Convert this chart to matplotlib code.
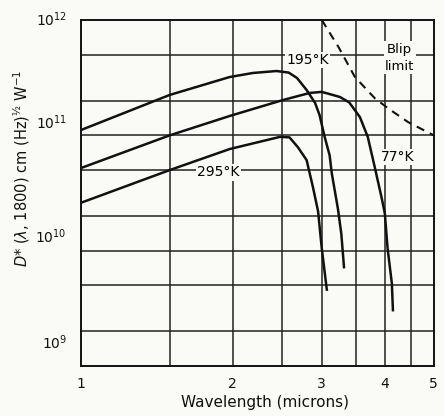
import matplotlib.pyplot as plt
import matplotlib.transforms as mtransforms

# curves (wavelength in microns, D* in cm Hz^1/2 W^-1)
x195 = [1.0, 1.5, 1.97, 2.19, 2.44, 2.58, 2.68, 2.80, 2.91, 2.97, 3.04, 3.11,
        3.14, 3.23, 3.28, 3.32]
y195 = [1.11e11, 2.24e11, 3.2e11, 3.47e11, 3.61e11, 3.5e11, 3.14e11, 2.47e11,
        1.91e11, 1.50e11, 9.7e10, 6.7e10, 4.7e10, 2.3e10, 1.4e10, 7.2e9]

x77 = [1.0, 1.5, 1.97, 2.51, 2.84, 3.0, 3.26, 3.4, 3.57, 3.70, 3.82, 3.94,
       4.0, 4.05, 4.13, 4.15]
y77 = [5.2e10, 1.0e11, 1.47e11, 2.02e11, 2.33e11, 2.38e11, 2.15e11, 1.93e11,
       1.44e11, 9.7e10, 5.3e10, 2.9e10, 2.1e10, 1.05e10, 5.2e9, 3.05e9]

x295 = [1.0, 1.5, 1.97, 2.48, 2.59, 2.69, 2.80, 2.88, 2.95, 3.0, 3.07]
y295 = [2.6e10, 5.0e10, 7.6e10, 9.7e10, 9.6e10, 7.9e10, 6.1e10, 3.6e10,
        2.2e10, 1.05e10, 4.6e9]

xblip = [3.0, 3.24, 3.49, 3.82, 4.07, 4.45, 5.0]
yblip = [1.0e12, 5.8e11, 3.2e11, 2.1e11, 1.7e11, 1.3e11, 1.0e11]

xticks = [1, 2, 3, 4, 5]
yticks = [1e9, 1e10, 1e11, 1e12]
ylabels = ['$10^9$', '$10^{10}$', '$10^{11}$', '$10^{12}$']
xgrid = [1.5, 2, 2.5, 3, 3.5, 4, 4.5]
ygrid = [2e9, 5e9, 1e10, 2e10, 5e10, 1e11, 2e11, 5e11]

bg = '#fafaf6'
ink = '#111111'
fig = plt.figure(figsize=(4.44, 4.16), dpi=100, facecolor=bg)
ax = fig.add_axes([0.182, 0.12, 0.795, 0.832], facecolor=bg)
ax.set_xscale('log')
ax.set_yscale('log')
ax.set_xlim(1, 5)
ax.set_ylim(1e9, 1e12)

for xv in xgrid:
    ax.axvline(xv, color='#222222', lw=1.1, zorder=1)
for yv in ygrid:
    ax.axhline(yv, color='#222222', lw=1.1, zorder=1)

ax.plot(x195, y195, color=ink, lw=1.8, zorder=3)
ax.plot(x77, y77, color=ink, lw=1.8, zorder=3)
ax.plot(x295, y295, color=ink, lw=1.8, zorder=3)
ax.plot(xblip, yblip, color=ink, lw=1.5, ls=(0, (4, 3)), zorder=3)

box = dict(facecolor=bg, edgecolor='none', pad=1.0)
ax.text(2.81, 4.5e11, '195°K', fontsize=10, ha='center', va='center', bbox=box, zorder=4)
ax.text(4.28, 4.7e11, 'Blip\nlimit', fontsize=9.5, ha='center', va='center',
        linespacing=1.4, bbox=box, zorder=4)
ax.text(4.24, 6.5e10, '77°K', fontsize=10, ha='center', va='center', bbox=box, zorder=4)
ax.text(1.875, 4.8e10, '295°K', fontsize=10, ha='center', va='center', bbox=box, zorder=4)

ax.set_xticks(xticks)
ax.set_xticklabels([str(v) for v in xticks])
ax.set_xticks([], minor=True)
ax.set_yticks(yticks)
ax.set_yticklabels(ylabels)
ax.set_yticks([], minor=True)
ax.tick_params(length=0, labelsize=10, colors=ink)
ax.tick_params(axis='x', pad=8)
ax.tick_params(axis='y', pad=10)
# the scanned labels sit above their grid lines by varying amounts
lifts = [18, 11, 10, 1]
for lab, lift in zip(ax.get_yticklabels(), lifts):
    lab.set_transform(lab.get_transform() +
                      mtransforms.ScaledTranslation(0, lift / 72, fig.dpi_scale_trans))

for sp in ax.spines.values():
    sp.set_linewidth(1.4)
    sp.set_color(ink)

fig.text(265 / 444, 1 - 403 / 416, 'Wavelength (microns)', fontsize=11,
         ha='center', va='center', color=ink)
fig.text(22 / 444, 1 - 168 / 416,
         r'$D$* ($\lambda$, 1800) cm (Hz)$^{½}$ W$^{-1}$', fontsize=10.5,
         rotation=90, ha='center', va='center', color=ink)

fig.savefig('out.png', dpi=100, facecolor=bg)
